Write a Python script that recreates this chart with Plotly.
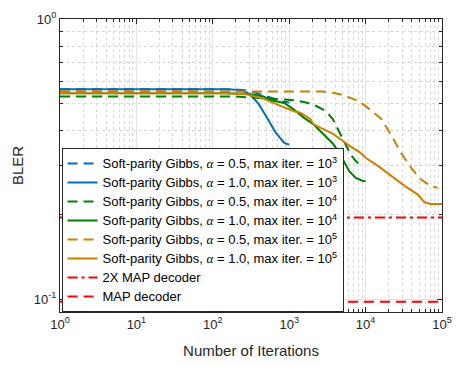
import plotly.graph_objects as go

# ---- data ----
bd_x = [1, 150, 250, 350, 450, 550, 700, 850, 1000]
bd_y = [0.562, 0.562, 0.558, 0.548, 0.535, 0.526, 0.513, 0.507, 0.504]

bs_x = [1, 150, 230, 280, 330, 400, 470, 540, 600, 660, 750, 850, 930, 1000]
bs_y = [0.562, 0.562, 0.558, 0.546, 0.527, 0.497, 0.462, 0.433, 0.41, 0.395, 0.378, 0.363, 0.358, 0.357]

gd_x = [1, 200, 400, 700, 1150, 1600, 2080, 2790, 3300, 3750, 4140, 4700, 5300, 6430, 7400, 8630]
gd_y = [0.529, 0.529, 0.523, 0.516, 0.513, 0.505, 0.495, 0.475, 0.457, 0.438, 0.416, 0.39, 0.364, 0.327, 0.312, 0.300]

gs_x = [1, 150, 300, 450, 600, 860, 1156, 1552, 2080, 2535, 3079, 3750, 4570, 5300, 6136, 7450, 9080, 10000]
gs_y = [0.544, 0.544, 0.54, 0.53, 0.512, 0.502, 0.475, 0.445, 0.421, 0.399, 0.379, 0.359, 0.331, 0.306, 0.286, 0.271, 0.265, 0.264]

od_x = [1, 1000, 2790, 3900, 5000, 6700, 8240, 11500, 16200, 21900, 29500, 39800, 52500, 70800, 87000]
od_y = [0.553, 0.553, 0.551, 0.545, 0.536, 0.52, 0.508, 0.475, 0.439, 0.383, 0.331, 0.294, 0.268, 0.254, 0.250]

os_x = [1, 80, 150, 270, 440, 700, 1150, 1400, 1900, 2080, 2790, 3750, 5000, 6430, 8240, 10000,
        14800, 21900, 32400, 47900, 58900, 70800, 100000]
os_y = [0.544, 0.544, 0.543, 0.539, 0.522, 0.495, 0.469, 0.463, 0.439, 0.421, 0.405, 0.389, 0.368, 0.35, 0.336, 0.32,
        0.298, 0.275, 0.254, 0.237, 0.222, 0.219, 0.219]

map2_x = [1, 100000]
map2_y = [0.196, 0.196]
map_x = [1, 100000]
map_y = [0.098, 0.098]

x_tickvals = [1, 10, 100, 1000, 10000, 100000]
x_ticktext = ["10<sup>0</sup>", "10<sup>1</sup>", "10<sup>2</sup>", "10<sup>3</sup>", "10<sup>4</sup>", "10<sup>5</sup>"]
y_tickvals = [0.1, 1]
y_ticktext = ["10<sup>-1</sup>", "10<sup>0</sup>"]

BLUE = "#0072BD"
GREEN = "#008000"
ORANGE = "#CC7F00"
RED = "#FF0000"
DASH = "10px,6px"

ALPHA = "<span style=\"font-family:'Liberation Serif'\"><i>α</i></span>"


def big(t):
    return f"<span style=\"font-size:13px\">{t}</span>"


def lab(a, e):
    return big(f"Soft-parity Gibbs, {ALPHA} = {a}, max iter. = 10<sup>{e}</sup>")


fig = go.Figure()
series = [
    (bd_x, bd_y, BLUE, DASH, lab("0.5", 3)),
    (bs_x, bs_y, BLUE, "solid", lab("1.0", 3)),
    (gd_x, gd_y, GREEN, DASH, lab("0.5", 4)),
    (gs_x, gs_y, GREEN, "solid", lab("1.0", 4)),
    (od_x, od_y, ORANGE, DASH, lab("0.5", 5)),
    (os_x, os_y, ORANGE, "solid", lab("1.0", 5)),
    (map2_x, map2_y, RED, "10px,4px,3px,4px", big("2X MAP decoder")),
    (map_x, map_y, RED, DASH, big("MAP decoder")),
]
for x, y, c, d, name in series:
    fig.add_trace(go.Scatter(x=x, y=y, mode="lines", name=name,
                             line=dict(color=c, width=2, dash=d)))

minor_x = [m * 10 ** k for k in range(0, 5) for m in range(2, 10)]
minor_y = [0.09] + [m * 0.1 for m in range(2, 10)]

axis_common = dict(
    showline=True, linecolor="#262626", linewidth=1, mirror="allticks",
    ticks="inside", ticklen=5, tickcolor="#262626", tickwidth=1,
    showgrid=True, gridcolor="#E3E3E3", gridwidth=1, zeroline=False,
    tickfont=dict(family="Liberation Sans, Arial", size=13, color="#262626"),
    title_font=dict(family="Liberation Sans, Arial", size=15, color="#262626"),
)

fig.update_xaxes(
    type="log", range=[0, 5], tickmode="array", tickvals=x_tickvals, ticktext=x_ticktext,
    title_text="Number of Iterations", title_standoff=14,
    minor=dict(tickmode="array", tickvals=minor_x, ticks="inside", ticklen=3, tickcolor="#262626",
               showgrid=True, gridcolor="#D9D9D9", griddash="dot", gridwidth=1),
    **axis_common,
)
fig.update_yaxes(
    type="log", range=[-1.045, 0], tickmode="array", tickvals=y_tickvals, ticktext=y_ticktext,
    title_text="BLER", title_standoff=6,
    minor=dict(tickmode="array", tickvals=minor_y, ticks="inside", ticklen=3, tickcolor="#262626",
               showgrid=True, gridcolor="#D9D9D9", griddash="dot", gridwidth=1),
    **axis_common,
)

fig.update_layout(
    width=462, height=367,
    margin=dict(l=60, r=10, t=12, b=55),
    paper_bgcolor="white", plot_bgcolor="white",
    showlegend=True,
    legend=dict(x=0.004, y=0, xanchor="left", yanchor="bottom",
                bgcolor="white", bordercolor="#262626", borderwidth=1,
                font=dict(family="Liberation Sans, Arial", size=11.5, color="#000000"),
                tracegroupgap=0),
)

fig.write_html("out.html")
